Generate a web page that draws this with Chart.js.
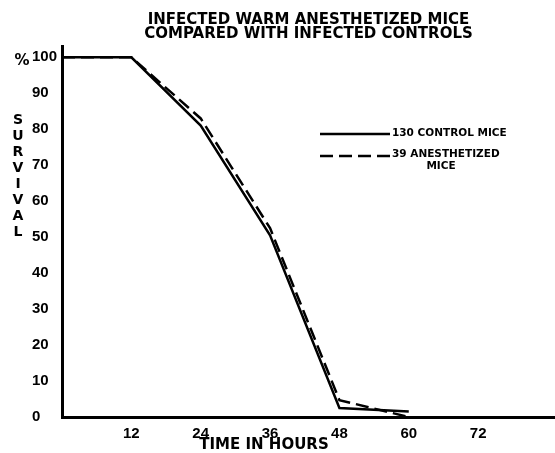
<!DOCTYPE html>
<html>
<head>
<meta charset="utf-8">
<script src="https://cdn.jsdelivr.net/npm/chart.js@4/dist/chart.umd.min.js"></script>
<style>
html,body{margin:0;padding:0;background:#fff;}
#wrap{width:555px;height:453px;}
</style>
</head>
<body>
<div id="wrap"><canvas id="c" width="555" height="453"></canvas></div>
<script>
const hours = [0, 12, 24, 36, 48, 60];
const controlSurvival = [100, 100, 81, 50.5, 2.5, 1.5];
const anesthetizedSurvival = [100, 100, 83, 52.5, 4.7, 0];
const xTickValues = [12, 24, 36, 48, 60, 72];
const yTickValues = [0, 10, 20, 30, 40, 50, 60, 70, 80, 90, 100];
const titleLines = ['INFECTED WARM ANESTHETIZED MICE', 'COMPARED WITH INFECTED CONTROLS'];
const seriesNames = ['130 CONTROL MICE', '39 ANESTHETIZED'];
const xTitle = 'TIME IN HOURS';
const yTitle = 'SURVIVAL';

const FONT = '"DejaVu Sans", sans-serif';
const TICKFONT = '"Liberation Sans", Arial, sans-serif';

const decor = {
  id: 'decor',
  beforeDraw(chart) {
    const ctx = chart.ctx;
    ctx.save();
    ctx.fillStyle = '#fff';
    ctx.fillRect(0, 0, chart.width, chart.height);
    ctx.restore();
  },
  afterDraw(chart) {
    const ctx = chart.ctx;
    ctx.save();
    ctx.fillStyle = '#000';
    ctx.strokeStyle = '#000';
    ctx.font = 'bold 15px ' + FONT;
    ctx.textAlign = 'center';
    ctx.textBaseline = 'middle';
    ctx.fillText('%', 22, 61);
    ctx.font = 'bold 14px ' + FONT;
    for (let i = 0; i < yTitle.length; i++) {
      ctx.fillText(yTitle[i], 18, 120 + i * 16);
    }
    ctx.font = 'bold 15px ' + FONT;
    ctx.fillText(xTitle, 264, 445);
    ctx.lineWidth = 2.5;
    ctx.setLineDash([]);
    ctx.beginPath(); ctx.moveTo(320, 134); ctx.lineTo(390, 134); ctx.stroke();
    ctx.setLineDash([13, 6]);
    ctx.beginPath(); ctx.moveTo(320, 156); ctx.lineTo(390, 156); ctx.stroke();
    ctx.setLineDash([]);
    ctx.font = 'bold 10.5px ' + FONT;
    ctx.textAlign = 'left';
    ctx.fillText(seriesNames[0], 392, 133);
    ctx.fillText(seriesNames[1], 392, 154);
    ctx.textAlign = 'center';
    ctx.fillText('MICE', 441, 166);
    ctx.restore();
  }
};

new Chart(document.getElementById('c'), {
  type: 'line',
  data: {
    datasets: [
      {
        label: seriesNames[0],
        data: hours.map((h, i) => ({x: h, y: controlSurvival[i]})),
        borderColor: '#000',
        borderWidth: 2.5,
        pointRadius: 0,
        tension: 0,
        fill: false
      },
      {
        label: seriesNames[1] + ' MICE',
        data: hours.map((h, i) => ({x: h, y: anesthetizedSurvival[i]})),
        borderColor: '#000',
        borderWidth: 2.5,
        borderDash: [13, 6],
        pointRadius: 0,
        tension: 0,
        fill: false
      }
    ]
  },
  options: {
    responsive: false,
    animation: false,
    layout: { padding: { top: 0, right: 0, left: 32, bottom: 0 } },
    plugins: {
      legend: { display: false },
      tooltip: { enabled: false },
      title: {
        display: true,
        text: titleLines,
        fullSize: false,
        color: '#000',
        font: { family: FONT, size: 15, weight: 'bold', lineHeight: 0.95 },
        padding: { top: 13, bottom: 5 }
      }
    },
    scales: {
      x: {
        type: 'linear',
        min: 0,
        max: 85.3,
        grid: { display: false, drawTicks: false },
        border: { display: true, color: '#000', width: 3 },
        afterBuildTicks(scale) { scale.ticks = xTickValues.map(v => ({value: v})); },
        afterFit(scale) { scale.height = 36; },
        ticks: {
          color: '#000',
          font: { family: TICKFONT, size: 15, weight: 'bold' },
          padding: 8,
          maxRotation: 0,
          autoSkip: false
        }
      },
      y: {
        type: 'linear',
        min: 0,
        max: 103,
        grid: { display: false, drawTicks: false },
        border: { display: true, color: '#000', width: 3 },
        afterBuildTicks(scale) { scale.ticks = yTickValues.map(v => ({value: v})); },
        afterFit(scale) { scale.width = 30; },
        ticks: {
          color: '#000',
          font: { family: TICKFONT, size: 15, weight: 'bold' },
          crossAlign: 'far',
          padding: 4,
          autoSkip: false
        }
      }
    }
  },
  plugins: [decor]
});
</script>
</body>
</html>
